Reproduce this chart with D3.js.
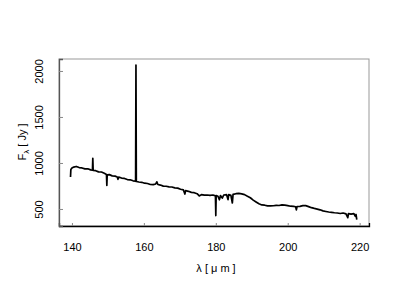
<!DOCTYPE html>
<html>
<head>
<meta charset="utf-8">
<script src="https://cdn.jsdelivr.net/npm/d3@7"></script>
<style>
body { margin:0; background:#fff; }
text { font-family: "Liberation Sans", Arial, sans-serif; font-size:11px; fill:#000; }
</style>
</head>
<body>
<svg id="chart" width="400" height="300"></svg>
<script>
// wavelength (micron) and flux (Jy)
var lam = [139.6,139.7,140.0,140.5,141.2,142.0,142.8,143.6,144.4,145.2,145.7,145.8,145.9,146.6,147.4,148.2,149.0,149.6,149.7,149.8,
  150.4,151.2,152.0,152.6,152.8,153.0,153.8,154.6,155.4,156.2,157.0,157.7,157.8,157.9,158.6,159.4,160.2,161.0,161.8,162.6,
  163.3,163.6,163.9,164.6,165.4,166.2,167.0,167.8,168.6,169.4,170.2,171.0,171.4,171.6,172.4,173.2,174.0,174.8,175.4,176.0,
  176.8,177.6,178.4,179.2,179.9,180.0,180.1,180.6,181.0,181.3,181.8,182.2,183.0,183.4,183.6,184.2,184.6,184.8,185.6,186.4,
  187.2,188.0,188.8,189.6,190.4,191.2,192.0,192.8,193.6,194.4,195.2,196.0,196.8,197.6,198.4,199.2,200.0,200.8,201.6,202.2,
  202.4,202.6,203.4,204.2,205.0,205.8,206.6,207.4,208.2,209.0,209.8,210.6,211.4,212.2,213.0,213.8,214.6,215.4,216.2,216.7,
  216.9,217.6,218.4,218.8,219.0,219.2]
var flux = [848,930,945,955,962,950,946,936,937,925,922,1050,918,916,903,902,888,876,755,870,
  873,860,857,848,822,846,836,832,820,817,806,801,2065,799,793,790,780,777,766,764,
  772,795,766,760,748,747,740,739,730,727,714,707,662,700,692,680,677,666,642,656,
  650,652,648,652,643,428,646,638,600,646,618,652,655,602,656,648,565,658,666,670,
  664,656,638,622,596,576,556,544,541,534,534,535,539,538,545,541,536,530,529,524,
  490,527,529,536,536,526,514,506,499,491,479,473,467,463,459,456,451,456,447,405,
  451,444,449,420,440,385]

var xTicks = [140,160,180,200,220]
var yTicks = [500,1000,1500,2000]

var plotL=59, plotT=59, plotR=369, plotB=226

var xScale = d3.scaleLinear()
    .domain([136.4, 222.6])
    .range([plotL, plotR])

var yScale = d3.scaleLinear()
    .domain([315, 2130])
    .range([plotB, plotT])

var svg = d3.select("#chart")

// frame (top/right light grey)
svg.append("rect")
    .attr("x", plotL).attr("y", plotT)
    .attr("width", plotR-plotL).attr("height", plotB-plotT)
    .attr("fill", "none").attr("stroke", "#999").attr("stroke-width", 1)

// x axis, ticks pointing inward
var xAxis = svg.append("g")
    .attr("transform", "translate(0," + plotB + ")")
    .call(d3.axisBottom(xScale).tickValues(xTicks).tickSize(-3).tickPadding(17).tickFormat(d3.format("d")))
xAxis.select(".domain").attr("stroke", "#000").attr("stroke-width", 1.3)
xAxis.selectAll(".tick line").attr("stroke", "#888")
xAxis.selectAll("text").attr("font-size", 11.5).attr("font-family", "Liberation Sans, Arial, sans-serif")

// y axis, ticks inward, labels rotated
var yAxis = svg.append("g")
    .attr("transform", "translate(" + plotL + ",0)")
    .call(d3.axisLeft(yScale).tickValues(yTicks).tickSize(-4).tickPadding(0).tickFormat(d3.format("d")))
yAxis.select(".domain").attr("stroke", "#555").attr("stroke-width", 1.3)
yAxis.selectAll(".tick line").attr("stroke", "#888")
yAxis.selectAll(".tick text")
    .attr("x", null)
    .attr("text-anchor", "middle")
    .attr("font-size", 11.5).attr("font-family", "Liberation Sans, Arial, sans-serif")
    .attr("transform", "translate(-20,0) rotate(-90)")
    .attr("y", 0).attr("dy", "0.35em")

// spectrum
var pts = d3.zip(lam, flux)
var line = d3.line()
    .x(function(d) { return xScale(d[0]); })
    .y(function(d) { return yScale(d[1]); })

svg.append("path")
    .datum(pts)
    .attr("fill", "none")
    .attr("stroke", "#000")
    .attr("stroke-width", 1.7)
    .attr("stroke-linejoin", "round")
    .attr("d", line)

// axis titles
svg.append("text")
    .attr("x", 216).attr("y", 272)
    .attr("text-anchor", "middle")
    .text("λ [ μ m ]")

var yl = svg.append("text")
    .attr("transform", "translate(26,142) rotate(-90)")
    .attr("text-anchor", "middle")
yl.append("tspan").text("F")
yl.append("tspan").attr("font-size", 8).attr("dy", 3).text("λ")
yl.append("tspan").attr("dy", -3).text(" [ Jy ]")
</script>
</body>
</html>
